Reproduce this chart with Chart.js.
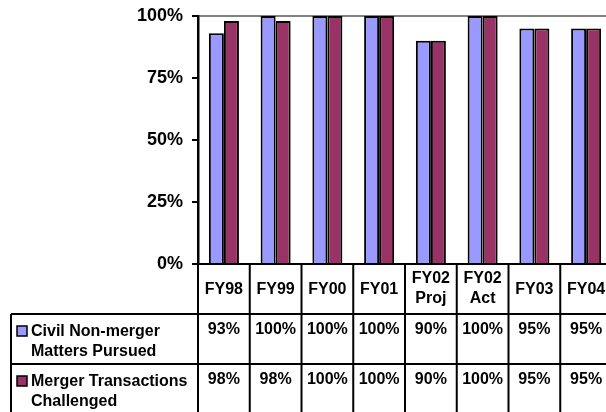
<!DOCTYPE html>
<html>
<head>
<meta charset="utf-8">
<script src="https://cdn.jsdelivr.net/npm/chart.js@4"></script>
<style>
  html, body { margin: 0; padding: 0; background: #fff; overflow: hidden; }
  #wrap { position: relative; width: 612px; height: 412px; }
</style>
</head>
<body>
<div id="wrap"><canvas id="chart"></canvas></div>
<script>
// Data
const categories = ['FY98', 'FY99', 'FY00', 'FY01', ['FY02', 'Proj'], ['FY02', 'Act'], 'FY03', 'FY04'];
const civilValues = [93, 100, 100, 100, 90, 100, 95, 95];
const mergerValues = [98, 98, 100, 100, 90, 100, 95, 95];
const seriesNames = [['Civil Non-merger', 'Matters Pursued'], ['Merger Transactions', 'Challenged']];
const yTicks = [0, 25, 50, 75, 100];

const BLUE = '#9999FF';
const MAROON = '#993366';
const FONT = "'Liberation Sans', Arial, sans-serif";

// Draws the data table under the plot, columns taken from the x scale
const dataTablePlugin = {
    id: 'dataTable',
    afterDraw(chart) {
        const ctx = chart.ctx;
        const xs = chart.scales.x;
        const area = chart.chartArea;
        const rowH = 50;
        const legendLeft = 11;
        const top = area.bottom;
        const right = chart.width;
        const edges = [];
        for (let i = 0; i <= categories.length; i++) {
            edges.push(xs.getPixelForValue(i - 0.5));
        }

        ctx.save();
        ctx.strokeStyle = '#000';
        ctx.lineWidth = 2;
        ctx.beginPath();
        // horizontal lines
        ctx.moveTo(area.left, top); ctx.lineTo(right, top);
        ctx.moveTo(legendLeft, top + rowH); ctx.lineTo(right, top + rowH);
        ctx.moveTo(legendLeft, top + rowH * 2); ctx.lineTo(right, top + rowH * 2);
        ctx.moveTo(legendLeft, top + rowH * 3); ctx.lineTo(right, top + rowH * 3);
        // vertical lines
        ctx.moveTo(legendLeft, top + rowH); ctx.lineTo(legendLeft, top + rowH * 3);
        edges.forEach(x => { ctx.moveTo(x, top); ctx.lineTo(x, top + rowH * 3); });
        ctx.stroke();

        ctx.fillStyle = '#000';
        ctx.font = 'bold 16px ' + FONT;
        ctx.textAlign = 'center';
        ctx.textBaseline = 'middle';

        // header row
        categories.forEach((c, i) => {
            const cx = (edges[i] + edges[i + 1]) / 2;
            if (Array.isArray(c)) {
                ctx.fillText(c[0], cx, top + 15);
                ctx.fillText(c[1], cx, top + 35);
            } else {
                ctx.fillText(c, cx, top + 26);
            }
        });

        // series rows
        const series = [civilValues, mergerValues];
        const colors = [BLUE, MAROON];
        series.forEach((vals, r) => {
            const rowTop = top + rowH * (r + 1);
            ctx.textAlign = 'center';
            vals.forEach((v, i) => {
                const cx = (edges[i] + edges[i + 1]) / 2;
                ctx.fillText(v + '%', cx, rowTop + 16);
            });
            // legend key
            ctx.fillStyle = colors[r];
            ctx.fillRect(17, rowTop + 12, 10, 10);
            ctx.lineWidth = 1.5;
            ctx.strokeRect(17, rowTop + 12, 10, 10);
            ctx.fillStyle = '#000';
            ctx.textAlign = 'left';
            ctx.fillText(seriesNames[r][0], 31, rowTop + 18);
            ctx.fillText(seriesNames[r][1], 31, rowTop + 38);
        });
        ctx.restore();
    }
};

const chart = new Chart(document.getElementById('chart'), {
    type: 'bar',
    data: {
        labels: categories,
        datasets: [{
            label: seriesNames[0].join(' '),
            data: civilValues,
            backgroundColor: BLUE,
            borderColor: '#000',
            borderWidth: 2,
            categoryPercentage: 0.58,
            barPercentage: 1
        }, {
            label: seriesNames[1].join(' '),
            data: mergerValues,
            backgroundColor: MAROON,
            borderColor: '#000',
            borderWidth: 2,
            categoryPercentage: 0.58,
            barPercentage: 1
        }]
    },
    options: {
        responsive: true,
        maintainAspectRatio: false,
        animation: false,
        layout: { padding: { top: 16, bottom: 148, left: 0, right: 0 } },
        plugins: {
            legend: { display: false },
            tooltip: { enabled: false }
        },
        scales: {
            x: { display: false },
            y: {
                min: 0,
                max: 100,
                afterBuildTicks: scale => { scale.ticks = yTicks.map(v => ({ value: v })); },
                afterFit: scale => {
                    scale.width = 198;
                    // keep the plot top at the layout padding
                    scale.paddingTop = 0;
                    scale.paddingBottom = 0;
                },
                ticks: {
                    padding: 9,
                    color: '#000',
                    font: { family: FONT, size: 18, weight: 'bold' },
                    callback: v => v + '%'
                },
                grid: {
                    color: ctx => ctx.tick && ctx.tick.value === 100 ? '#808080' : 'rgba(0,0,0,0)',
                    lineWidth: 2,
                    tickColor: '#000',
                    tickLength: 6,
                    tickWidth: 2
                },
                border: { display: true, color: '#000', width: 2.5 }
            }
        }
    },
    plugins: [dataTablePlugin]
});
</script>
</body>
</html>
